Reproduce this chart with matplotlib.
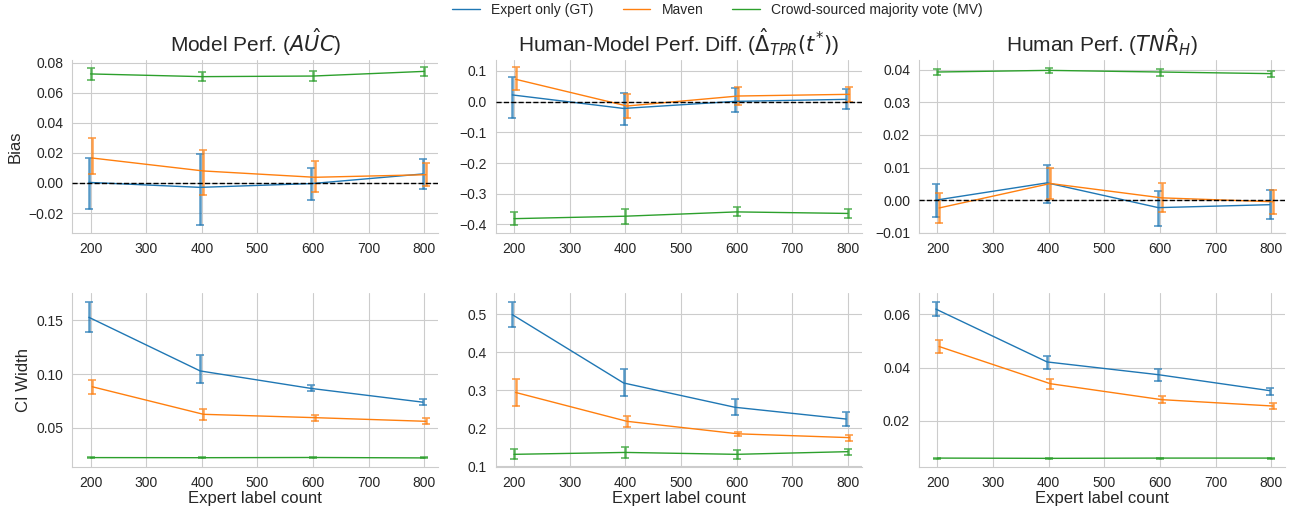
import numpy as np
import matplotlib
matplotlib.use("Agg")
import matplotlib.pyplot as plt
from matplotlib.ticker import FuncFormatter
import seaborn as sns

sns.set_style("whitegrid")
plt.rcParams['font.family'] = ['Liberation Sans', 'DejaVu Sans']

counts = [200, 400, 600, 800]
methods = ["Expert only (GT)", "Maven", "Crowd-sourced majority vote (MV)"]
colors = ["#1f77b4", "#ff7f0e", "#2ca02c"]
offsets = [-3, 3, 0]

titles = [r"Model Perf. ($\hat{AUC}$)",
          r"Human-Model Perf. Diff. ($\hat{\Delta}_{TPR}(t^{*})$)",
          r"Human Perf. ($\hat{TNR_H}$)"]

# --- Bias row: mean, lower, upper for each method ---
auc_bias_mean = {
    "gt": [0.0004, -0.0029, -0.0004, 0.0060],
    "maven": [0.0166, 0.0080, 0.0038, 0.0055],
    "crowd": [0.0725, 0.0707, 0.0711, 0.0742],
}
auc_bias_lo = {
    "gt": [-0.0175, -0.0280, -0.0113, -0.0042],
    "maven": [0.0058, -0.0078, -0.0062, -0.0018],
    "crowd": [0.0685, 0.0677, 0.0676, 0.0714],
}
auc_bias_hi = {
    "gt": [0.0164, 0.0190, 0.0102, 0.0162],
    "maven": [0.0297, 0.0222, 0.0148, 0.0133],
    "crowd": [0.0763, 0.0737, 0.0745, 0.0768],
}

tpr_bias_mean = {
    "gt": [0.022, -0.022, 0.001, 0.0076],
    "maven": [0.073, -0.014, 0.0185, 0.024],
    "crowd": [-0.381, -0.373, -0.359, -0.364],
}
tpr_bias_lo = {
    "gt": [-0.054, -0.077, -0.033, -0.025],
    "maven": [0.038, -0.054, -0.012, 0.000],
    "crowd": [-0.403, -0.397, -0.373, -0.380],
}
tpr_bias_hi = {
    "gt": [0.080, 0.029, 0.043, 0.041],
    "maven": [0.112, 0.024, 0.049, 0.049],
    "crowd": [-0.360, -0.350, -0.342, -0.350],
}

tnr_bias_mean = {
    "gt": [0.0000, 0.0053, -0.0023, -0.0014],
    "maven": [-0.0024, 0.0051, 0.0007, -0.0005],
    "crowd": [0.0393, 0.0398, 0.0393, 0.0388],
}
tnr_bias_lo = {
    "gt": [-0.0051, -0.0010, -0.0078, -0.0057],
    "maven": [-0.0071, 0.0002, -0.0037, -0.0041],
    "crowd": [0.0383, 0.0389, 0.0381, 0.0377],
}
tnr_bias_hi = {
    "gt": [0.0051, 0.0109, 0.0029, 0.0032],
    "maven": [0.0022, 0.0098, 0.0053, 0.0032],
    "crowd": [0.0401, 0.0406, 0.0402, 0.0397],
}

# --- CI width row ---
auc_ci_mean = {
    "gt": [0.1528, 0.1030, 0.0867, 0.0740],
    "maven": [0.0883, 0.0627, 0.0596, 0.0562],
    "crowd": [0.0225, 0.0224, 0.0226, 0.0222],
}
auc_ci_lo = {
    "gt": [0.1395, 0.0914, 0.0840, 0.0710],
    "maven": [0.0815, 0.0577, 0.0568, 0.0534],
    "crowd": [0.0221, 0.0220, 0.0222, 0.0219],
}
auc_ci_hi = {
    "gt": [0.1673, 0.1180, 0.0898, 0.0765],
    "maven": [0.0950, 0.0673, 0.0623, 0.0593],
    "crowd": [0.0229, 0.0228, 0.0230, 0.0226],
}

tpr_ci_mean = {
    "gt": [0.499, 0.319, 0.255, 0.224],
    "maven": [0.294, 0.218, 0.185, 0.175],
    "crowd": [0.131, 0.136, 0.131, 0.138],
}
tpr_ci_lo = {
    "gt": [0.467, 0.285, 0.234, 0.206],
    "maven": [0.259, 0.204, 0.179, 0.167],
    "crowd": [0.118, 0.122, 0.120, 0.128],
}
tpr_ci_hi = {
    "gt": [0.533, 0.357, 0.277, 0.243],
    "maven": [0.330, 0.232, 0.191, 0.183],
    "crowd": [0.145, 0.150, 0.143, 0.146],
}

tnr_ci_mean = {
    "gt": [0.0620, 0.0421, 0.0373, 0.0313],
    "maven": [0.0479, 0.0339, 0.0279, 0.0255],
    "crowd": [0.0059, 0.0058, 0.0059, 0.0059],
}
tnr_ci_lo = {
    "gt": [0.0594, 0.0395, 0.0349, 0.0296],
    "maven": [0.0455, 0.0320, 0.0265, 0.0243],
    "crowd": [0.0057, 0.0056, 0.0057, 0.0057],
}
tnr_ci_hi = {
    "gt": [0.0648, 0.0444, 0.0396, 0.0324],
    "maven": [0.0503, 0.0358, 0.0291, 0.0266],
    "crowd": [0.0061, 0.0060, 0.0061, 0.0061],
}

keys = ["gt", "maven", "crowd"]
panels = [
    [(auc_bias_mean, auc_bias_lo, auc_bias_hi), (tpr_bias_mean, tpr_bias_lo, tpr_bias_hi),
     (tnr_bias_mean, tnr_bias_lo, tnr_bias_hi)],
    [(auc_ci_mean, auc_ci_lo, auc_ci_hi), (tpr_ci_mean, tpr_ci_lo, tpr_ci_hi),
     (tnr_ci_mean, tnr_ci_lo, tnr_ci_hi)],
]
ylims = [[(-0.0335, 0.0818), (-0.429, 0.136), (-0.0102, 0.043)],
         [(0.0139, 0.175), (0.098, 0.555), (0.0026, 0.0679)]]
yticks = [[[-0.02, 0, 0.02, 0.04, 0.06, 0.08], [-0.4, -0.3, -0.2, -0.1, 0, 0.1],
           [-0.01, 0, 0.01, 0.02, 0.03, 0.04]],
          [[0.05, 0.10, 0.15], [0.1, 0.2, 0.3, 0.4, 0.5], [0.02, 0.04, 0.06]]]
ydecimals = [[2, 1, 2], [2, 1, 2]]


def make_fmt(nd):
    def f(v, pos):
        s = "%.*f" % (nd, v)
        if s.startswith("-") and float(s) == 0:
            s = s[1:]
        return s.replace("-", "\u2212")
    return FuncFormatter(f)


fig, axes = plt.subplots(2, 3, figsize=(12.89, 5.08), dpi=100)
fig.subplots_adjust(left=0.056, right=0.997, top=0.882, bottom=0.081,
                    wspace=0.157, hspace=0.346)

handles = []
for r in range(2):
    for c in range(3):
        ax = axes[r, c]
        mean_d, lo_d, hi_d = panels[r][c]
        for k, key in enumerate(keys):
            x = np.array(counts) + offsets[k]
            m = np.array(mean_d[key])
            lo = np.array(lo_d[key])
            hi = np.array(hi_d[key])
            ax.errorbar(x, m, yerr=[m - lo, hi - m], fmt='none', ecolor=colors[k],
                        alpha=0.75, elinewidth=1.8, capsize=3, capthick=1.2, zorder=3)
            ln, = ax.plot(x, m, color=colors[k], lw=1.0, zorder=4)
            if r == 0 and c == 0:
                handles.append(ln)
        if r == 0:
            ax.axhline(0, color="black", ls="--", lw=1.0, zorder=5)
            ax.set_title(titles[c], fontsize=15)
        else:
            ax.set_xlabel("Expert label count", fontsize=12, labelpad=1)
        ax.set_xlim(167, 825)
        ax.set_xticks([200, 300, 400, 500, 600, 700, 800])
        ax.set_ylim(*ylims[r][c])
        ax.set_yticks(yticks[r][c])
        ax.yaxis.set_major_formatter(make_fmt(ydecimals[r][c]))
        ax.tick_params(labelsize=10, pad=3)
        sns.despine(ax=ax)
        for sp in ["left", "bottom"]:
            ax.spines[sp].set_color("#cccccc")

axes[0, 0].set_ylabel("Bias", fontsize=12)
axes[1, 0].set_ylabel("CI Width", fontsize=12)

fig.legend(handles, methods, loc="upper center", bbox_to_anchor=(0.5566, 1.018), ncol=3,
           frameon=False, fontsize=10, handlelength=2.0, columnspacing=2.1)

fig.savefig("out.png", dpi=100)
